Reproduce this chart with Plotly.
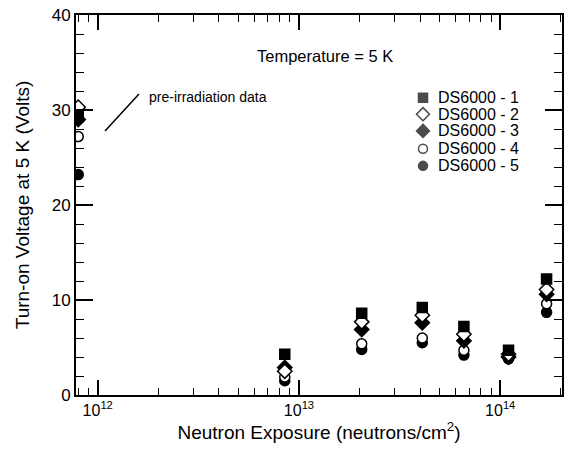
import plotly.graph_objects as go

exposure = [8.0e11, 8.5e12, 2.05e13, 4.1e13, 6.6e13, 1.1e14, 1.7e14]
series_names = ["DS6000 - 1", "DS6000 - 2", "DS6000 - 3", "DS6000 - 4", "DS6000 - 5"]
ds1 = [29.3, 4.3, 8.6, 9.2, 7.2, 4.7, 12.2]
ds2 = [30.3, 2.5, 7.7, 8.4, 6.4, 4.3, 11.1]
ds3 = [29.0, 2.9, 6.9, 7.6, 5.7, 4.0, 10.6]
ds4 = [27.2, 1.9, 5.4, 6.0, 4.7, 4.0, 9.6]
ds5 = [23.2, 1.5, 4.8, 5.5, 4.2, 3.8, 8.7]
values = [ds1, ds2, ds3, ds4, ds5]
x_tickvals = [1e12, 1e13, 1e14]
x_ticktext = ["10<sup>12</sup>", "10<sup>13</sup>", "10<sup>14</sup>"]
y_tickvals = [0, 10, 20, 30, 40]

symbols = ["square", "diamond", "diamond", "circle", "circle"]
fills = ["black", "white", "black", "white", "black"]
sizes = [10, 11, 11, 10, 10]

FONT = "Liberation Sans, Arial, Helvetica, sans-serif"
fig = go.Figure()
for i in reversed(range(5)):
    fig.add_trace(go.Scatter(
        x=exposure, y=values[i], mode="markers", name=series_names[i],
        showlegend=False,
        marker=dict(symbol=symbols[i], color=fills[i], size=sizes[i],
                    line=dict(color="black", width=1.5)),
    ))

# hand-made legend (tighter row spacing than plotly's built-in legend)
leg_x_marker = 0.714
leg_x_text = 0.741
leg_y = [0.782, 0.739, 0.695, 0.648, 0.603]
fig.add_trace(go.Scatter(
    x=[leg_x_marker] * 5, y=leg_y, mode="markers", xaxis="x2", yaxis="y2",
    showlegend=False, hoverinfo="skip",
    marker=dict(symbol=symbols, color=fills, size=[9, 10, 10, 9, 9],
                line=dict(color="black", width=1.5)),
))
for name, yy in zip(series_names, leg_y):
    fig.add_annotation(xref="paper", yref="paper", x=leg_x_text, y=yy,
                       xanchor="left", yanchor="middle", text=name,
                       showarrow=False,
                       font=dict(family=FONT, size=16, color="black"))

minor_x = [m * 10 ** e for e in (11, 12, 13, 14) for m in range(2, 10)]
minor_x = [v for v in minor_x if 7.8e11 <= v <= 2.03e14]

xaxis = dict(
    type="log", range=[11.892, 14.307], automargin=False,
    tickvals=x_tickvals, ticktext=x_ticktext, ticklabeloverflow="allow",
    ticks="inside", ticklen=15, tickwidth=1.5, tickcolor="black",
    minor=dict(tickvals=minor_x, ticks="inside", ticklen=7, tickwidth=1.2, tickcolor="black"),
    showline=True, linecolor="black", linewidth=2, mirror="ticks",
    showgrid=False, zeroline=False,
    tickfont=dict(family=FONT, size=16, color="black"),
    title=dict(text="Neutron Exposure (neutrons/cm<sup>2</sup>)",
               font=dict(family=FONT, size=19, color="black"), standoff=7),
)
yaxis = dict(
    range=[0, 40], tickvals=y_tickvals, automargin=False, ticklabeloverflow="allow",
    ticks="inside", ticklen=17, tickwidth=1.5, tickcolor="black",
    minor=dict(dtick=2, ticks="inside", ticklen=8, tickwidth=1.2, tickcolor="black"),
    showline=True, linecolor="black", linewidth=2, mirror="ticks",
    showgrid=False, zeroline=False,
    tickfont=dict(family=FONT, size=17, color="black"),
    title=dict(text="Turn-on Voltage at 5 K (Volts)",
               font=dict(family=FONT, size=19, color="black"), standoff=17),
)

fig.add_annotation(xref="paper", yref="paper", x=0.512, y=0.921,
                   text="Temperature = 5 K", showarrow=False,
                   font=dict(family=FONT, size=16.5, color="black"))
fig.add_annotation(xref="paper", yref="paper", x=0.146, y=0.811, xanchor="left",
                   text="pre-irradiation data", showarrow=False,
                   font=dict(family=FONT, size=14, color="black"))
fig.add_shape(type="line", xref="paper", yref="paper",
              x0=0.1296, y0=0.792, x1=0.0597, y1=0.695,
              line=dict(color="black", width=1.5))

fig.update_layout(
    width=566, height=453,
    margin=dict(l=76, r=4, t=15, b=58),
    paper_bgcolor="white", plot_bgcolor="white",
    font=dict(family=FONT, color="black"),
    xaxis=xaxis, yaxis=yaxis,
    xaxis2=dict(overlaying="x", range=[0, 1], visible=False, anchor="y2"),
    yaxis2=dict(overlaying="y", range=[0, 1], visible=False, anchor="x2"),
    showlegend=False,
)

# remove the page's default body margin so the figure sits at the window origin
fig.write_html("out.html", config={"displayModeBar": False},
               post_script="document.body.style.margin='0';")
